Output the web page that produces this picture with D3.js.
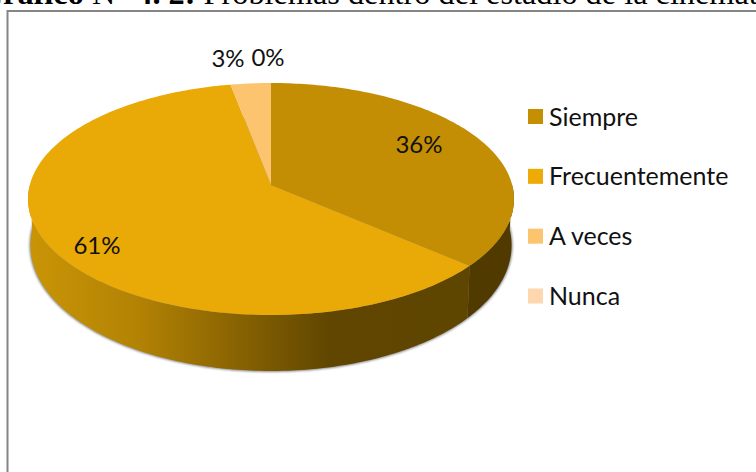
<!DOCTYPE html>
<html>
<head>
<meta charset="utf-8">
<script src="https://cdn.jsdelivr.net/npm/d3@7"></script>
<style>
html, body { margin: 0; padding: 0; background: #fff; overflow: hidden; }
svg { display: block; }
</style>
</head>
<body>
<svg id="chart" width="756" height="472"></svg>
<script>
// data
const categories = ["Siempre", "Frecuentemente", "A veces", "Nunca"];
const values = [36.3, 60.7, 3, 0];
const labels = ["36%", "61%", "3%", "0%"];
const colors = ["#c38e04", "#e9a906", "#fcc46e", "#fdd7ad"];
const legendColors = ["#c58f02", "#eeaa05", "#fcc46e", "#fdd7ad"];

var margin = { cx: 271, cy: 185, rx: 241.2, ry: 114.3, k: 0.1207 }
var labelPos = [[419, 143], [97, 244], [228, 57], [268, 56]]

var svg = d3.select("#chart")
var defs = svg.append("defs")

// title, cut off by the top of the picture
var title = svg.append("text").attr("x", -22).attr("y", 4)
    .attr("font-family", "Liberation Serif").attr("font-size", 32.3).attr("fill", "#000")
title.append("tspan").attr("font-weight", "bold").text("Gráfico ")
title.append("tspan").text("N° ")
title.append("tspan").attr("font-weight", "bold").text("4. 2: ")
title.append("tspan").text("Problemas dentro del estadio de la cinemat")

// chart frame, only the top and left edges are in the picture
svg.append("path").attr("d", "M7.5,472V11H756").attr("fill", "none").attr("stroke", "#868686").attr("stroke-width", 2)

// perspective view of the pie disc, angle 0 at the top and going clockwise
function project(a, f) {
    var u = Math.sin(a) * f, v = Math.cos(a) * f
    var w = 1 + margin.k * v
    return [margin.cx + margin.rx * u / w, margin.cy - margin.ry * v / w]
}
// same rim, lower down, for the bottom edge of the side wall
function projectLow(a) {
    var p = project(a, 1)
    var drop = 45 - 11 * Math.cos(a)
    return [margin.cx + (p[0] - margin.cx) * 0.99, p[1] + drop]
}
function rimAngles(a0, a1) {
    var n = Math.max(2, Math.ceil((a1 - a0) * 60))
    return d3.range(n + 1).map(i => a0 + (a1 - a0) * i / n)
}
var line = d3.line()

var arcs = d3.pie().sort(null).value(d => d)(values)

// soft shadow under the disc
defs.append("filter").attr("id", "blur").attr("x", "-5%").attr("y", "-5%").attr("width", "110%").attr("height", "110%")
    .append("feGaussianBlur").attr("stdDeviation", 1.3)
var fullRim = rimAngles(0, 2 * Math.PI).map(projectLow)
svg.append("path").attr("d", line(fullRim) + "Z").attr("fill", "#8a8a8a").attr("stroke", "#8a8a8a").attr("stroke-width", 2)
    .attr("filter", "url(#blur)")

// side wall of the front slices
var wallGrad = defs.append("linearGradient").attr("id", "wall").attr("gradientUnits", "userSpaceOnUse")
    .attr("x1", 30).attr("x2", 470).attr("y1", 0).attr("y2", 0)
var wallStops = [[0, "#c99506"], [0.25, "#b28204"], [0.5, "#835f02"], [0.68, "#604600"], [1, "#5e4500"]]
wallGrad.selectAll("stop").data(wallStops).join("stop").attr("offset", d => d[0]).attr("stop-color", d => d[1])

var walls = [
    { a0: Math.PI / 2, a1: arcs[0].endAngle, fill: "#503a00" },
    { a0: arcs[1].startAngle, a1: Math.PI * 1.5, fill: "url(#wall)" }
]
svg.selectAll(".wall").data(walls).join("path").attr("class", "wall")
    .attr("d", d => {
        var top = rimAngles(d.a0, d.a1)
        return line(top.map(a => project(a, 1)).concat(top.slice().reverse().map(projectLow))) + "Z"
    })
    .attr("fill", d => d.fill)

// top of the slices
svg.selectAll(".slice").data(arcs).join("path").attr("class", "slice")
    .attr("d", d => line([[margin.cx, margin.cy]].concat(rimAngles(d.startAngle, d.endAngle).map(a => project(a, 1)))) + "Z")
    .attr("fill", (d, i) => colors[i])

// percent labels
svg.selectAll(".pct").data(labels).join("text").attr("class", "pct")
    .attr("x", (d, i) => labelPos[i][0]).attr("y", (d, i) => labelPos[i][1])
    .attr("text-anchor", "middle").attr("dominant-baseline", "central")
    .attr("font-family", "Lato").attr("font-size", 24).attr("fill", "#111").text(d => d)

// legend
var legendY = d3.scalePoint().domain(categories).range([116.5, 296])
var legend = svg.selectAll(".legend").data(categories).join("g").attr("class", "legend")
    .attr("transform", d => "translate(528," + legendY(d) + ")")
legend.append("rect").attr("x", 0).attr("y", -7.5).attr("width", 15).attr("height", 15).attr("fill", (d, i) => legendColors[i])
legend.append("text").attr("x", 21).attr("y", -1).attr("dominant-baseline", "central")
    .attr("font-family", "Lato").attr("font-size", 25).attr("fill", "#111").text(d => d)
</script>
</body>
</html>
